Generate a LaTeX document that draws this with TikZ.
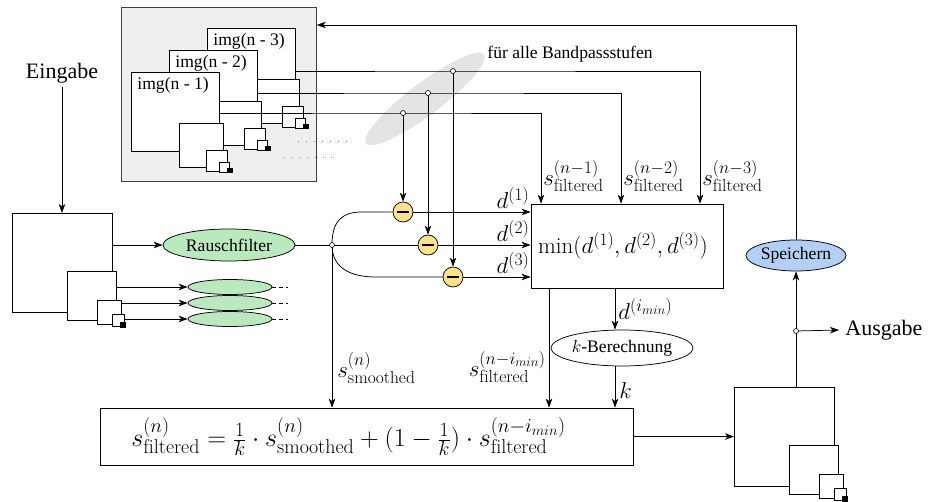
\RequirePackage{fix-cm}
\documentclass[tikz,border=0pt]{standalone}
\usepackage{fontspec}
\newfontfamily\tms{Liberation Serif}
\usetikzlibrary{arrows.meta,shapes.geometric,calc}
\DeclareMathSizes{23}{23}{17.5}{13}
\DeclareMathSizes{26}{26}{20}{14.5}
\definecolor{rfgreen}{RGB}{186,233,190}
\definecolor{spblue}{RGB}{178,208,244}
\definecolor{mnyellow}{RGB}{250,226,140}
\definecolor{boxgray}{RGB}{239,239,239}
\definecolor{ellgray}{RGB}{228,228,228}
\newcommand\txtA{\tms\fontsize{17.6}{21}\selectfont}
\newcommand\txtL{\tms\fontsize{22}{26}\selectfont}
\newcommand\mathL{\fontsize{23}{27}\selectfont}
\newcommand\mathF{\fontsize{26}{30}\selectfont}
\newcommand\mkpyr[3]{%
  \node[pb, minimum width=100pt, minimum height=99pt] (#1a) at (#2,#3) {};
  \node[pb, minimum size=49pt] (#1b) at (#2+55,#3+58) {};
  \node[pb, minimum size=24pt] (#1c) at (#2+85,#3+87) {};
  \node[pb, minimum size=12pt] (#1d) at (#2+100,#3+101) {};
  \node[blk, minimum size=6pt] at (#2+108,#3+109) {};
}
\newcommand\mkimg[4]{%
  \node[pb, minimum width=88pt, minimum height=79pt] (#1a) at (#2,#3) {};
  \node[anchor=north west, inner sep=2pt, font=\txtA] at (#2+4,#3+3) {#4};
  \node[pb, minimum size=44pt] at (#2+48,#3+51) {};
  \node[pb, minimum size=21pt] at (#2+75,#3+78) {};
  \node[pb, minimum size=10pt] at (#2+88,#3+90) {};
  \node[blk, minimum size=5.5pt] at (#2+96,#3+96) {};
}
\begin{document}
\begin{tikzpicture}[x=1pt,y=-1pt,line width=0.75pt,
  pb/.style={draw, fill=white, inner sep=0pt, outer sep=0pt, anchor=north west},
  blk/.style={fill=black, inner sep=0pt, outer sep=0pt, anchor=north west},
  arr/.style={-{Stealth[length=9pt,width=6.5pt,inset=2.5pt]}},
  jdot/.style={circle, draw, fill=white, inner sep=0pt, minimum size=5pt, line width=0.6pt},
  mn/.style={circle, draw, fill=mnyellow, minimum size=20pt, inner sep=0pt,
    path picture={\draw[line width=2pt] ([xshift=-6pt]path picture bounding box.center) -- ([xshift=6pt]path picture bounding box.center);}},
  ovl/.style={ellipse, draw, inner sep=0pt},
  lab/.style={inner sep=1pt, font=\mathL}
]
\useasboundingbox (0,0) rectangle (928,502);

% grey box with image stack
\node[draw=black!75, fill=boxgray, minimum width=195pt, minimum height=174pt, inner sep=0pt, anchor=north west] (gb) at (121,7) {};
\mkimg{nC}{207}{28}{img(n - 3)}
\mkimg{nB}{169}{50}{img(n - 2)}
\mkimg{nA}{131}{72}{img(n - 1)}
\draw[black!45, dash pattern=on 1pt off 7pt] (298,141) -- (347,141);
\draw[black!45, dash pattern=on 1pt off 7pt] (283,157) -- (332,157);

% grey ellipse
\fill[ellgray, rotate around={37:(425,99)}] (425,99) ellipse [x radius=74pt, y radius=16pt];
\node[font=\txtA] (alle) at (570,54) {für alle Bandpassstufen};

% input
\node[font=\txtL] (ein) at (62,73) {Eingabe};
\mkpyr{in}{12}{213}
\draw[arr] (ein.south) -- (ein.south |- ina.north);

\node[ovl, fill=rfgreen, minimum width=132pt, minimum height=32pt, font=\txtA] (rf) at (229,245) {Rauschfilter};
\node[ovl, fill=rfgreen, minimum width=84pt, minimum height=15pt] (e1) at (230,287) {};
\node[ovl, fill=rfgreen, minimum width=84pt, minimum height=15pt] (e2) at (230,303) {};
\node[ovl, fill=rfgreen, minimum width=84pt, minimum height=15pt] (e3) at (230,319) {};
\draw[arr] (rf.west -| ina.east) -- (rf.west);
\draw[arr] (e1.west -| inb.east) -- (e1.west);
\draw[arr] (e2.west -| inc.east) -- (e2.west);
\draw[arr] (e3.west -| ind.east) -- (e3.west);
\foreach \e in {e1,e2,e3} \draw[dash pattern=on 4pt off 3pt] (\e.east) -- ++(16,0);

% minus circles and taps
\coordinate (j) at (332,245);
\node[mn] (m1) at (403,212) {};
\node[mn] (m2) at (428,245) {};
\node[mn] (m3) at (453,277) {};
\coordinate (t1) at (403,113);
\coordinate (t2) at (428,93);
\coordinate (t3) at (453,71);

% min box
\node[draw, minimum width=192pt, minimum height=84pt, inner sep=0pt, font=\mathL] (mb) at (627,246) {$\min(d^{(1)},d^{(2)},d^{(3)})$\hspace*{8pt}};
\coordinate (x1) at (541,0);
\coordinate (x2) at (621,0);
\coordinate (x3) at (700,0);
\coordinate (xs) at (549,0);
\coordinate (xk) at (615,0);

\draw[arr] (nCa.east |- t3) -- (t3) -| (x3 |- mb.north);
\draw[arr] (nBa.east |- t2) -- (t2) -| (x2 |- mb.north);
\draw[arr] (nAa.east |- t1) -- (t1) -| (x1 |- mb.north);
\draw[arr] (t1) -- (m1.north);
\draw[arr] (t2) -- (m2.north);
\draw[arr] (t3) -- (m3.north);

\node[lab, anchor=west] at (542,176) {$s^{(n-1)}_{\mathrm{filtered}}$};
\node[lab, anchor=west] at (622,176) {$s^{(n-2)}_{\mathrm{filtered}}$};
\node[lab, anchor=west] at (701,176) {$s^{(n-3)}_{\mathrm{filtered}}$};

\draw (rf.east) -- (j);
\draw (j) -- (m2.west);
\draw (j) .. controls +(0,-24) and +(-20,0) .. (362,212) -- (m1.west);
\draw (j) .. controls +(0,24) and +(-24,0) .. (376,277) -- (m3.west);
\draw[arr] (m1.east) -- (m1 -| mb.west) node[lab, anchor=south east, pos=1, yshift=2pt] {$d^{(1)}$};
\draw[arr] (m2.east) -- (m2 -| mb.west) node[lab, anchor=south east, pos=1, yshift=2pt] {$d^{(2)}$};
\draw[arr] (m3.east) -- (m3 -| mb.west) node[lab, anchor=south east, pos=1, yshift=2pt] {$d^{(3)}$};

% formula box
\node[draw, minimum width=533pt, minimum height=57pt, inner sep=0pt, font=\mathF] (fb) at (366.5,436.5)
  {$s^{(n)}_{\mathrm{filtered}}=\frac{1}{k}\cdot s^{(n)}_{\mathrm{smoothed}}+(1-\frac{1}{k})\cdot s^{(n-i_{min})}_{\mathrm{filtered}}$\hspace*{36pt}};
\draw[arr] (j) -- (j |- fb.north);
\node[lab, anchor=west] at (336,368) {$s^{(n)}_{\mathrm{smoothed}}$};

\node[ovl, minimum width=128pt, minimum height=36pt, font=\txtA] (kb) at (622,348) {$k$-Berechnung};
\draw[arr] (xs |- mb.south) -- (xs |- fb.north);
\node[lab, anchor=east] at (547,367) {$s^{(n-i_{min})}_{\mathrm{filtered}}$};
\draw[arr] (xk |- mb.south) -- (xk |- kb.north);
\node[lab, anchor=west] at (617,309) {$d^{(i_{min})}$};
\draw[arr] (xk |- kb.south) -- (xk |- fb.north);
\node[lab, anchor=west] at (618,391) {$k$};

% output
\mkpyr{out}{734}{387}
\draw[arr] (fb.east) -- (fb.east -| outa.west);
\node[ovl, fill=spblue, minimum width=100pt, minimum height=31pt, font=\txtA] (sp) at (796,255.5) {Speichern};
\coordinate (jo) at (796,331);
\coordinate (tp) at (796,25);
\draw[arr] (sp.south |- outa.north) -- (sp.south);
\node[font=\txtL, anchor=west, inner sep=2pt] (aus) at (843,330) {Ausgabe};
\draw[arr] (jo) -- ([xshift=-4pt]aus.west);
\draw[arr] (sp.north) -- (sp.north |- tp) -- (gb.east |- tp);

% junction dots
\node[jdot] at (j) {};
\node[jdot] at (jo) {};
\node[jdot] at (t1) {};
\node[jdot] at (t2) {};
\node[jdot] at (t3) {};
\end{tikzpicture}
\end{document}
